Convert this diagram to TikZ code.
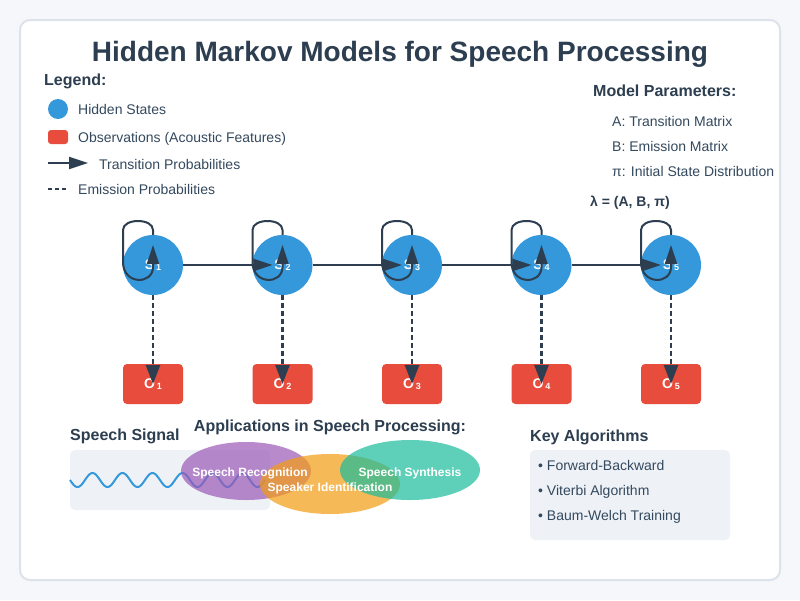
\documentclass[tikz,border=0pt]{standalone}
\usepackage{fontspec}
\setmainfont{Liberation Sans}
\usetikzlibrary{arrows.meta,calc}
\definecolor{cdark}{HTML}{2C3E50}
\definecolor{ctxt}{HTML}{34495E}
\definecolor{cblue}{HTML}{3498DB}
\definecolor{cred}{HTML}{E74C3C}
\definecolor{cpurple}{HTML}{9B59B6}
\definecolor{corange}{HTML}{F39C12}
\definecolor{cgreen}{HTML}{1ABC9C}
\definecolor{cbg}{HTML}{F5F7FA}
\definecolor{cborder}{HTML}{DDE3EA}
\definecolor{cbox}{HTML}{EEF2F7}
\begin{document}
\begin{tikzpicture}[x=1pt,y=-1pt,
  hstate/.style={circle, fill=cblue, minimum size=60pt, inner sep=0pt, text=white, font=\fontsize{14}{14}\selectfont\bfseries},
  obsbox/.style={rectangle, fill=cred, rounded corners=4pt, minimum width=60pt, minimum height=40pt, inner sep=0pt, text=white, font=\fontsize{14}{14}\selectfont\bfseries},
  trans/.style={draw=cdark, line width=2pt, -{Triangle[length=19pt,width=12pt]}},
  emit/.style={draw=cdark, line width=2.5pt, dash pattern=on 5pt off 3pt, -{Triangle[length=19pt,width=14pt]}},
  lbl/.style={anchor=base west, inner sep=0pt, text=ctxt, font=\fontsize{14}{16}\selectfont},
  head/.style={anchor=base west, inner sep=0pt, text=cdark, font=\fontsize{16}{18}\selectfont\bfseries},
  apptext/.style={anchor=base, inner sep=0pt, text=white, font=\fontsize{12}{14}\selectfont\bfseries}
]
\useasboundingbox (0,0) rectangle (800,600);
\fill[cbg] (0,0) rectangle (800,600);
\draw[fill=white, draw=cborder, line width=2pt, rounded corners=10pt] (20,20) rectangle (780,580);

% title
\node[anchor=base, inner sep=0pt, text=cdark, font=\fontsize{28}{32}\selectfont\bfseries] (title) at (400,61) {Hidden Markov Models for Speech Processing};

% legend
\node[head] (legend) at (44,85) {Legend:};
\node[circle, fill=cblue, minimum size=20pt, inner sep=0pt] (lcirc) at (58,109) {};
\node[lbl] (lhid) at (78,114) {Hidden States};
\node[rectangle, fill=cred, rounded corners=3pt, minimum width=20pt, minimum height=14pt, inner sep=0pt] (lrect) at (58,137) {};
\node[lbl] (lobs) at (78,142) {Observations (Acoustic Features)};
\coordinate (la1) at (48,163);
\coordinate (la2) at (88,163);
\draw[trans] (la1) -- (la2);
\node[lbl] (ltr) at (99,169) {Transition Probabilities};
\coordinate (ld1) at (48,189);
\coordinate (ld2) at (68,189);
\draw[draw=cdark, line width=2pt, dash pattern=on 4pt off 3pt] (ld1) -- (ld2);
\node[lbl] (lem) at (78,194) {Emission Probabilities};

% model parameters
\node[head] (mp) at (593,96) {Model Parameters:};
\node[lbl] (pa) at (612,126) {A: Transition Matrix};
\node[lbl] (pb) at (612,151) {B: Emission Matrix};
\node[lbl] (ppi) at (612,176) {π: Initial State Distribution};
\node[lbl, text=cdark, font=\fontsize{14}{16}\selectfont\bfseries] (plam) at (590,206) {λ = (A, B, π)};

% states and observations
\foreach \i/\x in {1/153,2/282.5,3/412,4/541.5,5/671} {
  \node[hstate] (s\i) at (\x,265) {S\hspace{2pt}\raisebox{-1.5pt}{\fontsize{9}{9}\selectfont \i}};
  \node[obsbox] (o\i) at (\x,384) {O\hspace{2pt}\raisebox{-1.5pt}{\fontsize{9}{9}\selectfont \i}};
}
% transitions
\foreach \i/\j in {1/2,2/3,3/4,4/5} {
  \draw[trans] (s\i.east) -- ([xshift=-10pt]s\j.center);
}
% self loops and emissions
\foreach \i/\x in {1/153,2/282.5,3/412,4/541.5,5/671} {
  \draw[trans] (s\i.north) -- (\x,230) .. controls (\x,218) and (\x-30,218) .. (\x-30,230)
     -- (\x-30,262) .. controls (\x-30,285) and (\x,285) .. (\x,267) -- ([yshift=20pt]s\i.center);
  \draw[emit] (s\i.south) -- (o\i.center);
}

% speech signal
\node[head] (sig) at (70,440) {Speech Signal};
\fill[cbox, rounded corners=5pt] (70,450) rectangle (270,510);
\draw[cblue, line width=2pt] plot[domain=70:265, samples=200, smooth] (\x, {480+7*sin(12*(\x-70))});

% applications
\node[anchor=base, inner sep=0pt, text=cdark, font=\fontsize{16}{18}\selectfont\bfseries] (apps) at (330,431) {Applications in Speech Processing:};
\fill[cpurple, opacity=0.7] (246,471) ellipse [x radius=65pt, y radius=29pt];
\fill[corange, opacity=0.7] (330,484) ellipse [x radius=70pt, y radius=30pt];
\fill[cgreen, opacity=0.7] (410,470) ellipse [x radius=70pt, y radius=30pt];
\node[apptext] (rec) at (250,476) {Speech Recognition};
\node[apptext] (spk) at (330,491) {Speaker Identification};
\node[apptext] (syn) at (410,476) {Speech Synthesis};

% key algorithms
\node[head] (ka) at (530,441) {Key Algorithms};
\fill[cbox, rounded corners=5pt] (530,450) rectangle (730,540);
\node[lbl] (k1) at (538,470) {• Forward-Backward};
\node[lbl] (k2) at (538,495) {• Viterbi Algorithm};
\node[lbl] (k3) at (538,520) {• Baum-Welch Training};
\end{tikzpicture}
\end{document}
